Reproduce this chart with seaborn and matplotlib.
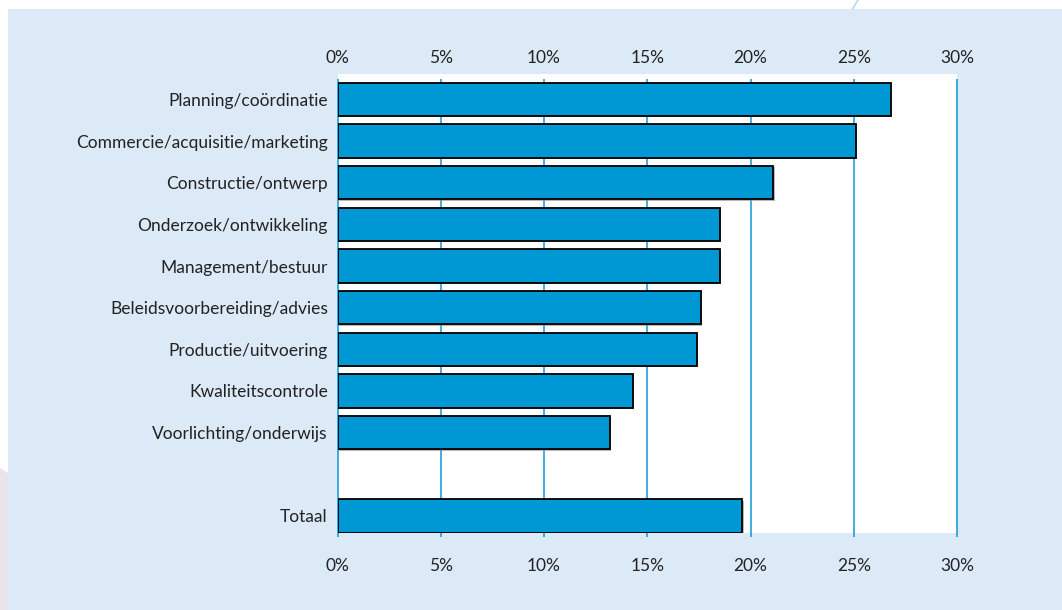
import matplotlib
matplotlib.use("Agg")
import matplotlib.pyplot as plt
import matplotlib.patheffects as pe
from matplotlib.patches import Rectangle, Polygon
from matplotlib.lines import Line2D
from matplotlib.ticker import FuncFormatter
import pandas as pd
import seaborn as sns

# Share of respondents per task area (percent)
categories = [
    "Planning/coördinatie",
    "Commercie/acquisitie/marketing",
    "Constructie/ontwerp",
    "Onderzoek/ontwikkeling",
    "Management/bestuur",
    "Beleidsvoorbereiding/advies",
    "Productie/uitvoering",
    "Kwaliteitscontrole",
    "Voorlichting/onderwijs",
    "Totaal",
]
values = [26.8, 25.1, 21.1, 18.5, 18.5, 17.6, 17.4, 14.3, 13.2, 19.6]
spacer = " "
row_order = categories[:-1] + [spacer] + categories[-1:]
x_ticks = [0, 5, 10, 15, 20, 25, 30]

sns.set_theme(style="white")
plt.rcParams["font.family"] = ["Lato", "DejaVu Sans"]

PANEL = "#dce9f6"
BAR = "#0098d4"
GRID = "#1f9fdb"
TEXT = "#222222"
FS = 12.5

fig = plt.figure(figsize=(10.62, 6.10), dpi=100)
fig.patch.set_facecolor("white")

# background panel and page decorations
fig.add_artist(Rectangle((8 / 1062, 0), 1 - 8 / 1062, 1 - 9 / 610,
                         transform=fig.transFigure, facecolor=PANEL,
                         edgecolor="none", zorder=-10))
fig.add_artist(Polygon([(0, 0), (8 / 1062, 0), (8 / 1062, 1 - 473 / 610),
                        (0, 1 - 468 / 610)], closed=True,
                       transform=fig.transFigure, facecolor="#ebe3ec",
                       edgecolor="none", zorder=-10))
fig.add_artist(Line2D([858 / 1062, 852.5 / 1062], [1.0, 1 - 9 / 610],
                      transform=fig.transFigure, color="#a9d4f0", lw=1.0))

ax = fig.add_axes([337.5 / 1062, 1 - 533 / 610, (957 - 337.5) / 1062, (533 - 74) / 610])
ax.set_facecolor("white")

df = pd.DataFrame({"taak": categories, "pct": values})
sns.barplot(data=df, y="taak", x="pct", order=row_order, orient="h",
            color=BAR, saturation=1, width=0.8, edgecolor="black",
            linewidth=1.3, ax=ax, zorder=3)
for patch in ax.patches:
    patch.set_path_effects([pe.SimplePatchShadow(offset=(1, -1), shadow_rgbFace="#888888", alpha=0.6),
                            pe.Normal()])

ax.set_xlim(0, 30)
ax.set_ylim(10.41, -0.61)

# vertical grid lines
ax.vlines(x_ticks, -0.48, 10.5, colors=GRID, linewidth=1.2, zorder=1, clip_on=False)

for s in ax.spines.values():
    s.set_visible(False)

fmt = FuncFormatter(lambda v, _: f"{v:g}%")
ax.set_xticks(x_ticks)
ax.xaxis.set_major_formatter(fmt)
ax.tick_params(axis="x", length=0, pad=18, labelsize=FS, colors=TEXT)
ax.tick_params(axis="y", length=0, pad=7, labelsize=FS, colors=TEXT)
ax.set_xlabel("")
ax.set_ylabel("")

top = ax.secondary_xaxis("top")
top.set_xticks(x_ticks)
top.xaxis.set_major_formatter(fmt)
top.tick_params(length=0, pad=6, labelsize=FS, colors=TEXT)
for s in top.spines.values():
    s.set_visible(False)

fig.savefig("out.png", dpi=100, facecolor=fig.get_facecolor())
